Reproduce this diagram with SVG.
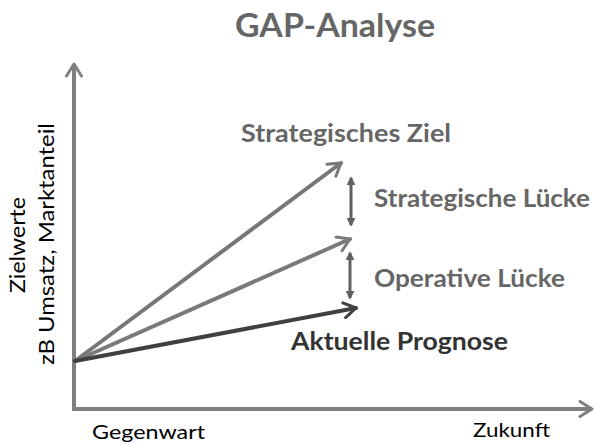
<svg xmlns="http://www.w3.org/2000/svg" width="596" height="445" viewBox="0 0 596 445">
<defs>
<style>
.ax{stroke:#7f7f7f;stroke-width:4;fill:none}
.ln{stroke-width:4;fill:none;stroke-linecap:round}
.dbl{stroke:#606060;stroke-width:3;fill:none}
.bt{font-family:Lato,"Open Sans","Liberation Sans",sans-serif;font-weight:bold}
.rt{font-family:Lato,"Open Sans","Liberation Sans",sans-serif;fill:#000}
</style>
<marker id="open" viewBox="0 0 12 12" refX="10" refY="6" markerWidth="4.5" markerHeight="4.5" orient="auto" markerUnits="strokeWidth">
<path d="M2,1 L10,6 L2,11" fill="none" stroke="context-stroke" stroke-width="2" stroke-linecap="round" stroke-linejoin="round"/>
</marker>
<marker id="tri" viewBox="0 0 10 10" refX="8" refY="5" markerWidth="3" markerHeight="3" orient="auto-start-reverse" markerUnits="strokeWidth">
<path d="M0,0 L10,5 L0,10 Z" fill="#606060"/>
</marker>
</defs>
<rect width="596" height="445" fill="#fff"/>
<g id="connectors">
<path class="ax" d="M74,409 L74,64" marker-end="url(#open)"/>
<path class="ax" d="M72,409 L592,409" marker-end="url(#open)"/>
<path class="ln" stroke="#777777" d="M75,361 L341,163" marker-end="url(#open)"/>
<path class="ln" stroke="#7a7a7a" d="M75,361 L350,239" marker-end="url(#open)"/>
<path class="ln" stroke="#404040" d="M75,361 L356,308" marker-end="url(#open)"/>
<path class="dbl" d="M351,178 L351,225" marker-start="url(#tri)" marker-end="url(#tri)"/>
<path class="dbl" d="M350,253 L350,298" marker-start="url(#tri)" marker-end="url(#tri)"/>
</g>
<g id="title"><text class="bt" x="235" y="37" font-size="33" fill="#666666" textLength="200" lengthAdjust="spacingAndGlyphs">GAP-Analyse</text></g>
<g id="strategisches-ziel"><text class="bt" x="241" y="142" font-size="24" fill="#666666" textLength="210" lengthAdjust="spacingAndGlyphs">Strategisches Ziel</text></g>
<g id="strategische-luecke"><text class="bt" x="374" y="207" font-size="24" fill="#666666" textLength="216" lengthAdjust="spacingAndGlyphs">Strategische Lücke</text></g>
<g id="operative-luecke"><text class="bt" x="374" y="287" font-size="24" fill="#666666" textLength="191" lengthAdjust="spacingAndGlyphs">Operative Lücke</text></g>
<g id="aktuelle-prognose"><text class="bt" x="291" y="350" font-size="24" fill="#333333" textLength="217" lengthAdjust="spacingAndGlyphs">Aktuelle Prognose</text></g>
<g id="gegenwart"><text class="rt" x="92" y="439" font-size="20" textLength="113" lengthAdjust="spacingAndGlyphs">Gegenwart</text></g>
<g id="zukunft"><text class="rt" x="473" y="437" font-size="20" textLength="77" lengthAdjust="spacingAndGlyphs">Zukunft</text></g>
<g id="y-label">
<text class="rt" transform="translate(25,245) rotate(-90)" font-size="21" text-anchor="middle" textLength="96" lengthAdjust="spacingAndGlyphs">Zielwerte</text>
<text class="rt" transform="translate(54,244) rotate(-90)" font-size="21" text-anchor="middle" textLength="242" lengthAdjust="spacingAndGlyphs">zB Umsatz, Marktanteil</text>
</g>
</svg>
